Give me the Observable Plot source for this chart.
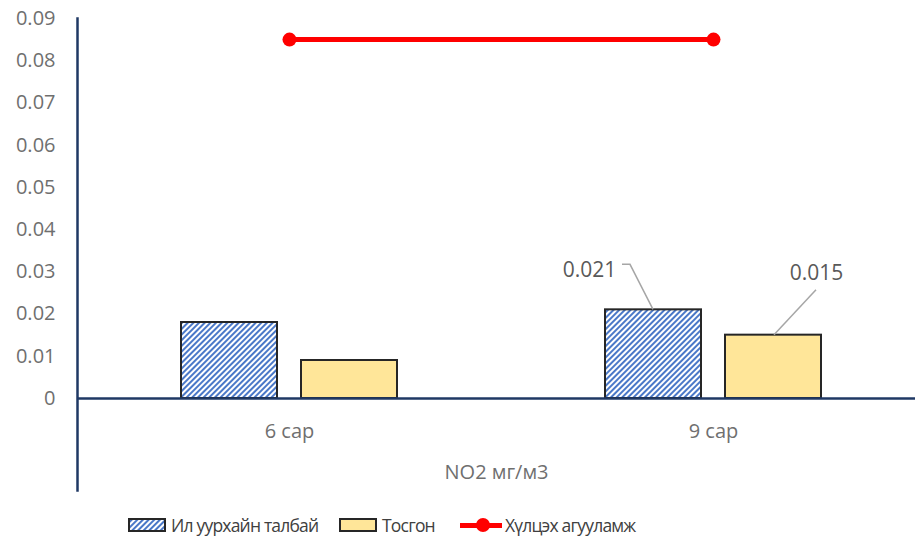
<!DOCTYPE html>
<html>
<head>
<meta charset="utf-8">
<script src="https://cdn.jsdelivr.net/npm/d3@7"></script>
<script src="https://cdn.jsdelivr.net/npm/@observablehq/plot@0.6"></script>
<style>
  html, body { margin: 0; padding: 0; background: #fff; }
  #wrap { width: 915px; height: 540px; position: relative; font-family: "Open Sans", sans-serif; }
  #legend { position: absolute; left: 0; top: 500px; width: 915px; height: 40px; }
  .item { position: absolute; top: 12px; height: 26px; display: flex; align-items: center; font-size: 17.5px; letter-spacing: -0.8px; color: #404040; white-space: nowrap; }
  .sw { width: 34px; height: 10px; border: 2px solid #262626; margin-right: 5px; }
  .ln { width: 42px; height: 16px; margin-right: 3px; position: relative; }
  .ln::before { content: ""; position: absolute; left: 0; right: 0; top: 6px; height: 5px; background: #FF0000; }
  .ln::after { content: ""; position: absolute; left: 16px; top: 1px; width: 14px; height: 14px; border-radius: 50%; background: #FF0000; }
</style>
</head>
<body>
<div id="wrap">
  <div id="chart"></div>
  <div id="legend"></div>
</div>
<script>
const months = ["6 сар", "9 сар"];
const seriesNames = ["Ил уурхайн талбай", "Тосгон", "Хүлцэх агууламж"];
const ilValues = [0.018, 0.021];
const tosgonValues = [0.009, 0.015];
const limitValues = [0.085, 0.085];
const yTicks = [0, 0.01, 0.02, 0.03, 0.04, 0.05, 0.06, 0.07, 0.08, 0.09];
const axisTitle = "NO2 мг/м3";
const labelMonth = "9 сар";
const labelIl = 0.021;
const labelTosgon = 0.015;

const ilRows = months.map((m, i) => ({month: m, value: ilValues[i]}));
const tosRows = months.map((m, i) => ({month: m, value: tosgonValues[i]}));
const limRows = months.map((m, i) => ({month: m, value: limitValues[i]}));

const navy = "#1F3864";
const gray = "#6f6f6f";

const chart = Plot.plot({
  width: 915,
  height: 500,
  marginLeft: 77,
  marginRight: 0,
  marginTop: 18,
  marginBottom: 10,
  style: {fontFamily: "Open Sans, sans-serif", fontSize: "20px", background: "#fff"},
  x: {domain: months, range: [77, 925], padding: 0, axis: null},
  y: {domain: [0, 0.09], range: [398, 18], axis: null},
  marks: [
    Plot.axisY({ticks: yTicks, tickSize: 0, tickPadding: 22, fill: gray, fontSize: 20, label: null,
      tickFormat: d => d === 0 ? "0" : d.toFixed(2)}),
    Plot.barY(ilRows, {x: "month", y: "value", fill: "url(#hatch)", stroke: "#262626", strokeWidth: 2, insetLeft: 104, insetRight: 224}),
    Plot.barY(tosRows, {x: "month", y: "value", fill: "#FFE699", stroke: "#262626", strokeWidth: 2, insetLeft: 224, insetRight: 104}),
    Plot.ruleY([0], {stroke: navy, strokeWidth: 2.5}),
    Plot.frame({anchor: "left", stroke: navy, strokeWidth: 2.5}),
    Plot.line(limRows, {x: "month", y: "value", stroke: "#FF0000", strokeWidth: 5}),
    Plot.dot(limRows, {x: "month", y: "value", r: 7, fill: "#FF0000"}),
    Plot.text(months, {x: d => d, y: () => 0, dy: 33, fill: gray, fontSize: 20}),
    Plot.text([axisTitle], {frameAnchor: "bottom", dy: -12, fill: gray, fontSize: 20}),
    Plot.text([{month: labelMonth, value: labelIl}], {x: "month", y: "value", text: d => String(d.value), dx: -124, dy: -40, fill: "#595959", fontSize: 21}),
    Plot.text([{month: labelMonth, value: labelTosgon}], {x: "month", y: "value", text: d => String(d.value), dx: 103, dy: -62, fill: "#595959", fontSize: 21})
  ]
});

const svg = d3.select(chart);
svg.insert("defs", ":first-child").html(
  '<pattern id="hatch" patternUnits="userSpaceOnUse" width="4" height="4" patternTransform="rotate(45)">' +
  '<rect width="4" height="4" fill="#ffffff"/><rect width="2" height="4" fill="#4a78c8"/></pattern>'
);

// leader lines for data labels, positioned through the plot's scales
const xs = chart.scale("x"), ys = chart.scale("y");
const cx = xs.apply(labelMonth) + xs.bandwidth / 2;
const b1x = cx - 60, b1y = ys.apply(labelIl);
const b2x = cx + 61, b2y = ys.apply(labelTosgon);
const leaders = [
  [[b1x, b1y], [b1x - 23, b1y - 45], [b1x - 31, b1y - 45]],
  [[b2x, b2y], [b2x + 42, b2y - 45]]
];
svg.append("g").selectAll("path").data(leaders).join("path")
  .attr("d", d => d3.line()(d)).attr("fill", "none").attr("stroke", "#a6a6a6").attr("stroke-width", 1.5);

document.getElementById("chart").appendChild(chart);

// legend
const legend = document.getElementById("legend");
const items = [
  {left: 128, html: '<div class="sw" style="background:#fff"><svg width="34" height="10" style="display:block"><rect width="34" height="10" fill="url(#hatch)"/></svg></div>'},
  {left: 339, html: '<div class="sw" style="background:#FFE699"></div>'},
  {left: 460, html: '<div class="ln"></div>'}
];
items.forEach((it, i) => {
  const el = document.createElement("div");
  el.className = "item";
  el.style.left = it.left + "px";
  el.innerHTML = it.html + "<span>" + seriesNames[i] + "</span>";
  legend.appendChild(el);
});
</script>
</body>
</html>
